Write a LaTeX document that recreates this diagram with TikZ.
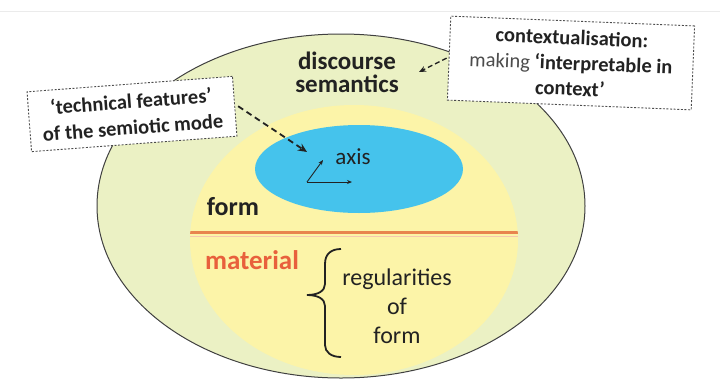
\documentclass[tikz,border=0pt]{standalone}
\usepackage{fontspec}
\setmainfont{Carlito}
\usetikzlibrary{arrows.meta,shapes.geometric}
\definecolor{outerfill}{HTML}{EBF1C4}
\definecolor{innerfill}{HTML}{FCF4A8}
\definecolor{bluefill}{HTML}{45C3EC}
\definecolor{orangeln}{HTML}{E8854E}
\definecolor{materialc}{HTML}{E8603C}
\definecolor{txt}{HTML}{222222}
\tikzset{
  notebox/.style={draw=black!70, dash pattern=on 2pt off 1.6pt, line width=0.9pt, fill=white, align=center, inner sep=4pt, text=txt},
  dasharrow/.style={dash pattern=on 6pt off 4pt, line width=1.8pt, -{Stealth[length=9pt,width=8pt]}, draw=txt},
  boldlbl/.style={font=\bfseries\fontsize{26}{26}\selectfont, text=txt},
}
\begin{document}
\begin{tikzpicture}[x=1pt,y=-1pt]
\useasboundingbox (0,0) rectangle (720,378);
\fill[white] (0,0) rectangle (720,378);
\draw[black!8, line width=1pt] (0,11) -- (720,11);
% outer ellipse
\path[fill=outerfill, draw=black!75, line width=1pt] (341,206) ellipse [x radius=244, y radius=172];
% inner yellow
\path[fill=innerfill] (354,240) ellipse [x radius=164, y radius=135];
% orange line clipped to yellow
\begin{scope}
\clip (354,240) ellipse [x radius=164, y radius=135];
\draw[orangeln, line width=2.4pt] (150,232.5) -- (560,232.5);
\draw[orangeln!45, line width=1pt] (150,236.5) -- (560,236.5);
\end{scope}
% blue ellipse
\node[ellipse, fill=bluefill, minimum width=208, minimum height=88, inner sep=0] (blue) at (359,169) {};
% axis
\coordinate (ax0) at (307,182);
\coordinate (axx) at (352,182);
\coordinate (axy) at (323,160);
\draw[txt, line width=0.9pt, -{Stealth[length=5pt,width=4pt]}] (ax0) -- (axx);
\draw[txt, line width=0.9pt, -{Stealth[length=5pt,width=4pt]}] (ax0) -- (axy);
\node[font=\fontsize{23}{23}\selectfont, text=txt] (axis) at (353,157) {axis};
% labels
\node[boldlbl, align=center, font=\bfseries\fontsize{25}{23}\selectfont] (ds) at (347,72) {discourse\\semantics};
\node[boldlbl] (form) at (233,207) {form};
\node[boldlbl, text=materialc, font=\bfseries\fontsize{27}{27}\selectfont] (mat) at (252,260) {material};
% brace
\draw[txt, line width=1.8pt] (341,249) .. controls (331,249) and (325,254) .. (325,264) -- (325,284) .. controls (325,291) and (318,295) .. (307,295) .. controls (318,295) and (325,299) .. (325,306) -- (325,345) .. controls (325,352) and (331,357) .. (341,357);
\node[align=center, text=txt, font=\fontsize{24}{29}\selectfont] (reg) at (397,306) {regularities\\of\\form};
% boxes
\node[notebox, rotate=4.3, minimum width=206, minimum height=60, font=\bfseries\fontsize{20.5}{26}\selectfont] (tech) at (132,114) {‘technical features’\\of the semiotic mode};
\node[notebox, rotate=-2.3, minimum width=244, minimum height=84, font=\fontsize{20.5}{25.5}\selectfont] (ctx) at (571,63) {\textbf{contextualisation:}\\{\color{black!70}making} \textbf{‘interpretable in}\\\textbf{context’}};
% arrows
\coordinate (techend) at (307,152);
\coordinate (ctxend) at (419,72);
\draw[dasharrow] ([xshift=3pt]tech.east) -- (techend);
\draw[dash pattern=on 5pt off 3pt, line width=1.3pt, draw=txt, -{Stealth[length=7pt,width=6pt,open]}] ([xshift=-2pt]ctx.west) -- (ctxend);
\end{tikzpicture}
\end{document}
